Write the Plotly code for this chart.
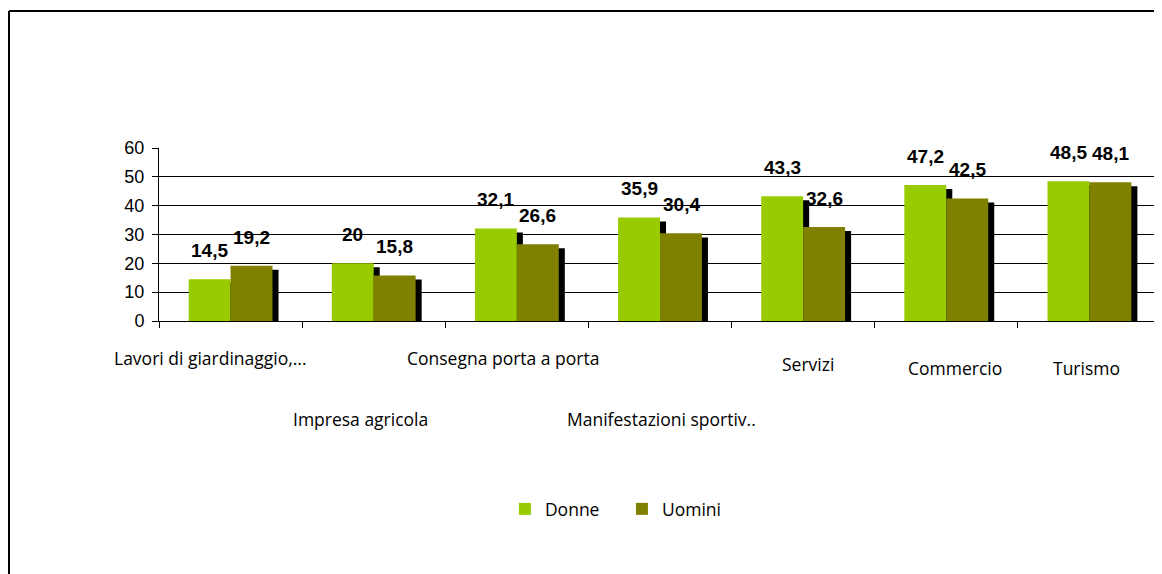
import plotly.graph_objects as go

categories = ["Lavori di giardinaggio,...", "Impresa agricola", "Consegna porta a porta",
              "Manifestazioni sportiv..", "Servizi", "Commercio", "Turismo"]
donne = [14.5, 20, 32.1, 35.9, 43.3, 47.2, 48.5]
uomini = [19.2, 15.8, 26.6, 30.4, 32.6, 42.5, 48.1]
donne_labels = ["14,5", "20", "32,1", "35,9", "43,3", "47,2", "48,5"]
uomini_labels = ["19,2", "15,8", "26,6", "30,4", "32,6", "42,5", "48,1"]
y_ticks = [0, 10, 20, 30, 40, 50, 60]

GREEN = "#99CC00"
OLIVE = "#808000"
BW = 0.293          # bar width in category units
SH_DX = 0.042       # shadow horizontal offset (category units)
SH_DY = 1.4         # shadow vertical offset (value units)

fig = go.Figure()

# shadows
for vals, off in [(donne, -BW), (uomini, 0.0)]:
    fig.add_trace(go.Bar(
        x=categories, y=[v - SH_DY + 0.7 for v in vals], base=-0.7,
        offset=off + SH_DX, width=BW, marker=dict(color="black", line=dict(width=0)),
        showlegend=False, hoverinfo="skip", cliponaxis=False))

fig.add_trace(go.Bar(x=categories, y=donne, name="Donne", offset=-BW, width=BW,
                     marker=dict(color=GREEN, line=dict(width=0)), cliponaxis=False))
fig.add_trace(go.Bar(x=categories, y=uomini, name="Uomini", offset=0.0, width=BW,
                     marker=dict(color=OLIVE, line=dict(width=0)), cliponaxis=False))

VAL_FONT = dict(family="Liberation Sans", size=19, color="black")
annotations = []
for c, v, t in zip(categories, donne, donne_labels):
    annotations.append(dict(x=c, y=v, text="<b>%s</b>" % t, showarrow=False, xshift=-21, yshift=16,
                            yanchor="bottom", font=VAL_FONT, xref="x", yref="y"))
for c, v, t in zip(categories, uomini, uomini_labels):
    annotations.append(dict(x=c, y=v, text="<b>%s</b>" % t, showarrow=False, xshift=21, yshift=16,
                            yanchor="bottom", font=VAL_FONT, xref="x", yref="y"))

# staggered category labels (Excel style)
label_dx = [-20, -13, -14, 1, 5, 9, -3]
label_py = [358, 419, 358, 419, 364, 368, 368]
for c, dx, py in zip(categories, label_dx, label_py):
    annotations.append(dict(x=c, y=(321 - py) / 173.0, xref="x", yref="paper", text=c,
                            showarrow=False, xshift=dx, yanchor="middle",
                            font=dict(family="Open Sans", size=17.5, color="black")))

# page has an 8px body margin: figure is 8px smaller and offset by 8px
fig.update_layout(
    width=1154, height=566,
    margin=dict(l=151, r=1, t=140, b=253),
    paper_bgcolor="white", plot_bgcolor="white",
    barmode="overlay",
    showlegend=True,
    legend=dict(orientation="h", x=0.462, xanchor="center", y=(321 - 509) / 173.0, yanchor="middle",
                font=dict(family="Open Sans", size=17.5, color="black"),
                entrywidth=72, entrywidthmode="pixels",
                traceorder="normal"),
    annotations=annotations,
    xaxis=dict(showticklabels=False, ticks="outside", ticklen=6, tickcolor="black",
               tickson="boundaries", showline=True, linecolor="black", linewidth=1,
               showgrid=False, zeroline=False, range=[-0.5, 6.5], fixedrange=True),
    yaxis=dict(range=[0, 60], tickvals=y_ticks, ticks="outside", ticklen=6, tickcolor="black",
               showline=True, linecolor="black", linewidth=1, showgrid=True,
               gridcolor="black", gridwidth=1, zeroline=False,
               tickfont=dict(family="Liberation Sans", size=18, color="black"),
               ticklabelstandoff=4),
    shapes=[
        dict(type="line", xref="paper", yref="paper", x0=(9 - 159) / 1002.0, x1=1.1,
             y0=(321 - 11) / 173.0, y1=(321 - 11) / 173.0, line=dict(color="black", width=2)),
        dict(type="line", xref="paper", yref="paper", x0=(9 - 159) / 1002.0, x1=(9 - 159) / 1002.0,
             y0=(321 - 11) / 173.0, y1=-2.0, line=dict(color="black", width=2)),
    ],
)

fig.write_html("out.html")
